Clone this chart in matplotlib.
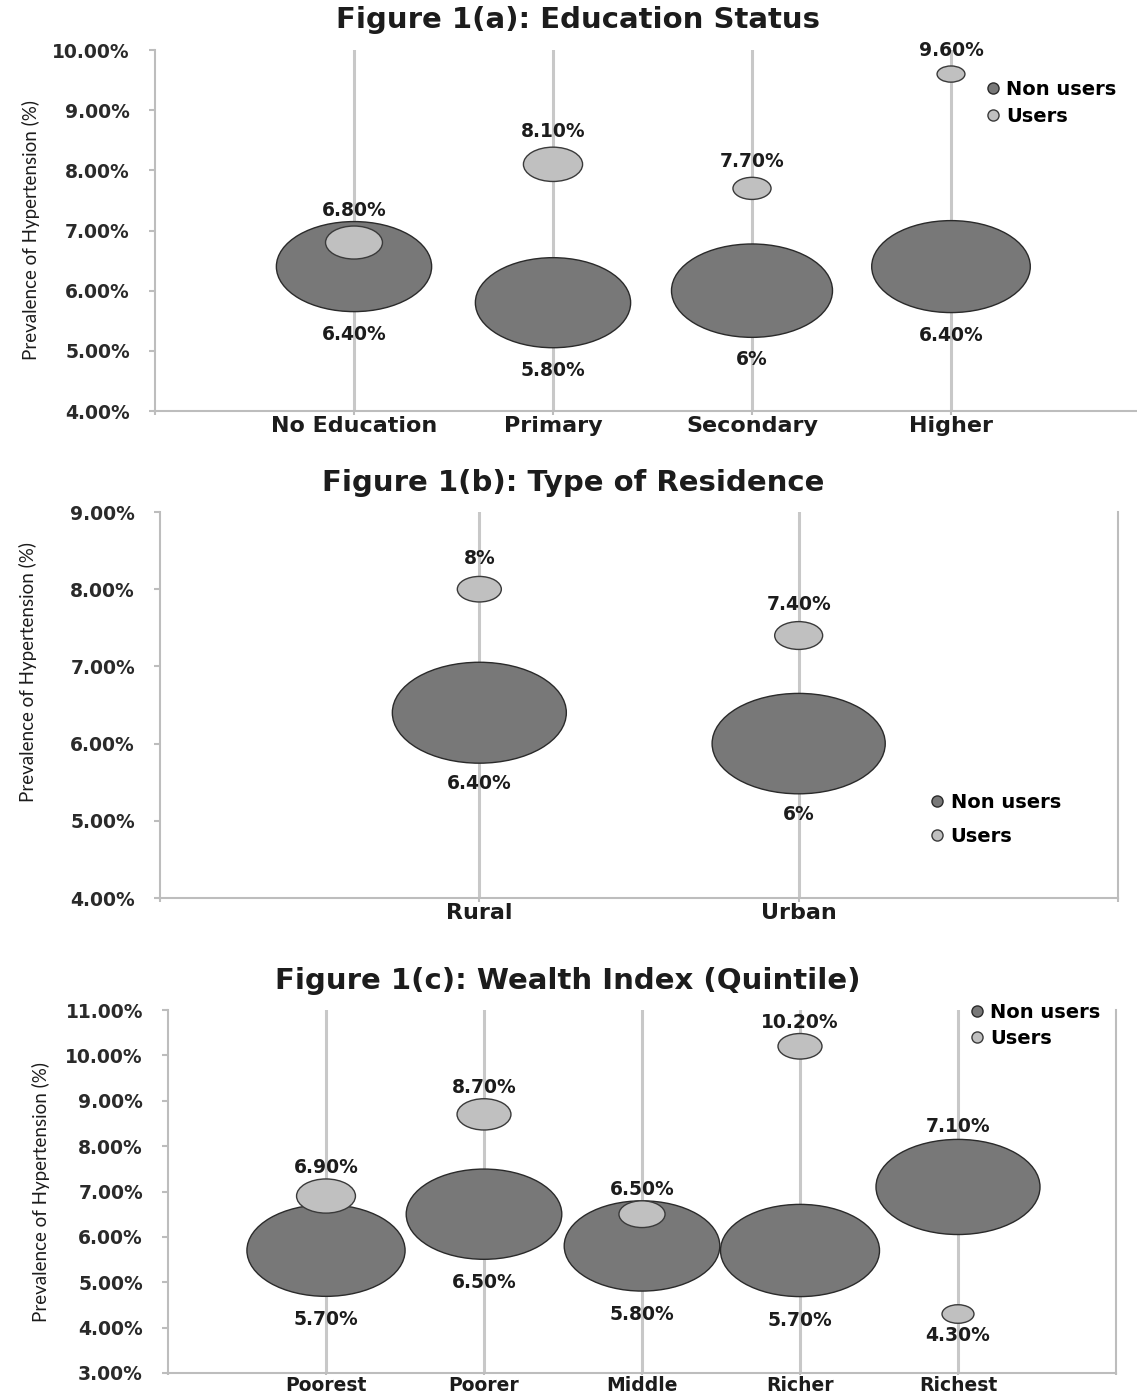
import numpy as np
import matplotlib
matplotlib.use("Agg")
import matplotlib.pyplot as plt
from matplotlib.path import Path
from matplotlib.transforms import Affine2D
from matplotlib.lines import Line2D

# ---- data (prevalence of hypertension, %) ----
edu_cats = ["No Education", "Primary", "Secondary", "Higher"]
edu_nonusers = [6.4, 5.8, 6.0, 6.4]
edu_users = [6.8, 8.1, 7.7, 9.6]
edu_nonusers_bubble = [93, 93, 100, 97]
edu_users_bubble = [12.5, 13.5, 5.6, 3.0]

res_cats = ["Rural", "Urban"]
res_nonusers = [6.4, 6.0]
res_users = [8.0, 7.4]
res_nonusers_bubble = [100, 99]
res_users_bubble = [6.4, 7.6]

wealth_cats = ["Poorest", "Poorer", "Middle", "Richer", "Richest"]
wealth_nonusers = [5.7, 6.5, 5.8, 5.7, 7.1]
wealth_users = [6.9, 8.7, 6.5, 10.2, 4.3]
wealth_nonusers_bubble = [93, 90, 90, 94, 100]
wealth_users_bubble = [12.9, 10.8, 7.9, 7.2, 3.8]

NONUSER_COLOR = "#787878"
USER_COLOR = "#c0c0c0"
GRID_COLOR = "#c8c8c8"
TEXT_COLOR = "#1c1c1c"
ASPECT = 0.58
PX2PT = 0.72

# bubbles are stretched horizontally in the reference
ellipse = Path.unit_circle().transformed(Affine2D().scale(1.0, ASPECT))


def fmt(v):
    if abs(v - round(v)) < 1e-9:
        return f"{int(round(v))}%"
    return f"{v:.2f}%"


def add_labels(ax, x, vals, sizes, sides, gaps):
    # gaps = (gap below, gap above) in pixels
    for xi, v, s, side in zip(x, vals, sizes, sides):
        gap = gaps[0] if side < 0 else gaps[1]
        off = np.sqrt(s) * ASPECT / 2 + gap * PX2PT
        ax.annotate(fmt(v), (xi, v), xytext=(0, side * off), textcoords="offset points",
                    ha="center", va="bottom" if side > 0 else "top",
                    fontsize=13.5, fontweight="bold", color=TEXT_COLOR, zorder=5)


def draw_panel(ax, cats, nonusers, users, nu_bub, u_bub, ylim, max_w_px,
               nu_side, u_side, nu_gap, u_gap, leg_xy, leg_space, ylab_xy,
               cat_size=16, xtick_len=3):
    n = len(cats)
    x = np.arange(1, n + 1)
    ax.set_xlim(0, n + 1)
    ax.set_ylim(*ylim)

    for xi in x:
        ax.axvline(xi, color=GRID_COLOR, lw=2.2, zorder=0)

    bmax = max(nu_bub)
    wpt = max_w_px * PX2PT
    s_nu = [(wpt * np.sqrt(b / bmax)) ** 2 for b in nu_bub]
    s_u = [(wpt * np.sqrt(b / bmax)) ** 2 for b in u_bub]

    ax.scatter(x, nonusers, s=s_nu, marker=ellipse, color=NONUSER_COLOR,
               edgecolor="#2a2a2a", linewidth=1.0, zorder=3)
    ax.scatter(x, users, s=s_u, marker=ellipse, color=USER_COLOR,
               edgecolor="#3a3a3a", linewidth=1.0, zorder=4)

    add_labels(ax, x, nonusers, s_nu, nu_side, nu_gap)
    add_labels(ax, x, users, s_u, u_side, u_gap)

    yt = np.arange(ylim[0], ylim[1] + 0.5, 1.0)
    ax.set_yticks(yt)
    ax.set_yticklabels([f"{t:.2f}%" for t in yt])
    ax.set_xticks(x)
    ax.set_xticklabels(cats)
    ax.set_xticks(np.arange(0, n + 2), minor=True)
    ax.tick_params(axis="y", length=4, width=1.5, color="#bdbdbd", pad=14,
                   labelsize=13.5, labelcolor="#2a2a2a")
    ax.tick_params(axis="x", which="both", length=xtick_len, width=1.5, color="#bdbdbd",
                   pad=0.5, labelsize=cat_size, labelcolor=TEXT_COLOR)
    for lab in ax.get_yticklabels() + ax.get_xticklabels():
        lab.set_fontweight("bold")

    ax.spines["top"].set_visible(False)
    for sp in ["left", "bottom", "right"]:
        ax.spines[sp].set_color("#bdbdbd")
        ax.spines[sp].set_linewidth(1.5)

    ax.set_ylabel("Prevalence of Hypertension (%)", fontsize=13.5,
                  family=["Lato", "DejaVu Sans"], color=TEXT_COLOR)
    ax.yaxis.set_label_coords(*ylab_xy)

    handles = [
        Line2D([], [], ls="", marker="o", markersize=8, markerfacecolor=NONUSER_COLOR,
               markeredgecolor="#2a2a2a", markeredgewidth=1),
        Line2D([], [], ls="", marker="o", markersize=8, markerfacecolor=USER_COLOR,
               markeredgecolor="#3a3a3a", markeredgewidth=1),
    ]
    ax.legend(handles, ["Non users", "Users"], loc="center left", bbox_to_anchor=leg_xy,
              frameon=False, borderpad=0, borderaxespad=0, handlelength=0.8,
              handletextpad=0.3, labelspacing=leg_space,
              prop={"weight": "bold", "size": 14})


W, H = 1137, 1398
fig = plt.figure(figsize=(W / 100, H / 100), dpi=100)

ax1 = fig.add_axes([155 / W, 1 - 411 / H, 995 / W, 361 / H])
draw_panel(ax1, edu_cats, edu_nonusers, edu_users, edu_nonusers_bubble, edu_users_bubble,
           (4, 10), 161, [-1, -1, -1, -1], [1, 1, 1, 1], (13, 13), (6, 6),
           (0.834, 0.854), 0.4, (-0.1156, 0.5))
ax1.spines["right"].set_visible(False)

ax2 = fig.add_axes([160 / W, 1 - 898 / H, 958 / W, 386 / H])
draw_panel(ax2, res_cats, res_nonusers, res_users, res_nonusers_bubble, res_users_bubble,
           (4, 9), 174, [-1, -1], [1, 1], (11, 11), (8, 8),
           (0.803, 0.204), 0.75, (-0.128, 0.585))

ax3 = fig.add_axes([168 / W, 1 - 1373 / H, 948 / W, 363 / H])
draw_panel(ax3, wealth_cats, wealth_nonusers, wealth_users, wealth_nonusers_bubble,
           wealth_users_bubble, (3, 11), 164, [-1, -1, -1, -1, 1], [1, 1, 1, 1, -1],
           (14, 3), (3, 2), (0.845, 0.958), 0.38, (-0.1245, 0.5),
           cat_size=13.5, xtick_len=1.5)

fig.text(578 / W, 1 - 20 / H, "Figure 1(a): Education Status", ha="center", va="center",
         fontsize=21, fontweight="bold", color=TEXT_COLOR)
fig.text(573 / W, 1 - 483 / H, "Figure 1(b): Type of Residence", ha="center", va="center",
         fontsize=21, fontweight="bold", color=TEXT_COLOR)
fig.text(568 / W, 1 - 981 / H, "Figure 1(c): Wealth Index (Quintile)", ha="center",
         va="center", fontsize=21, fontweight="bold", color=TEXT_COLOR)

fig.savefig("out.png", dpi=100)
